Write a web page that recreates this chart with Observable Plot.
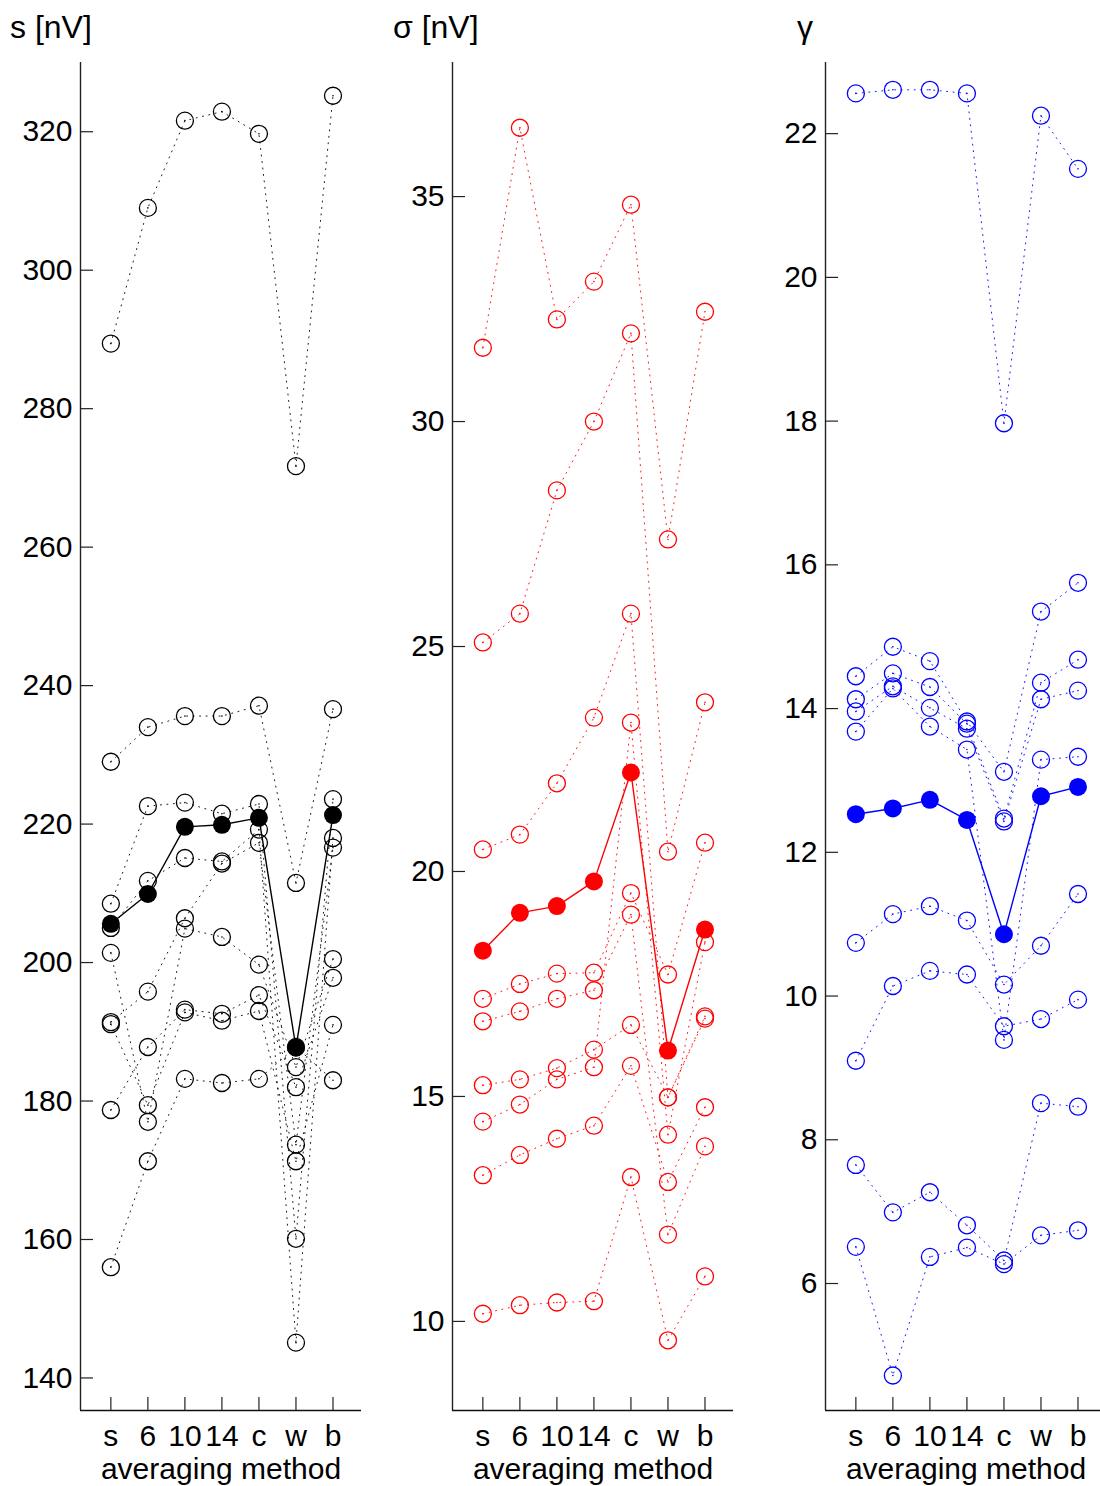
<!DOCTYPE html>
<html>
<head>
<meta charset="utf-8">
<script src="https://cdn.jsdelivr.net/npm/d3@7"></script>
<script src="https://cdn.jsdelivr.net/npm/@observablehq/plot@0.6"></script>
<style>
  html, body { margin: 0; padding: 0; background: #fff; }
  #wrap { position: relative; width: 1100px; height: 1486px; overflow: hidden; background: #fff;
          font-family: "Liberation Sans", Arial, Helvetica, sans-serif; }
  .panel { position: absolute; top: 0; }
  .title { position: absolute; font-size: 32px; line-height: 32px; color: #000; white-space: nowrap; }
</style>
</head>
<body>
<div id="wrap"></div>
<script>
// ---------- data ----------
const methods = ["s", "6", "10", "14", "c", "w", "b"];

// panel 1: s [nV]
const sSeries = [
  [289.4, 309.0, 321.6, 322.9, 319.7, 271.7, 325.2],
  [229.0, 234.0, 235.6, 235.6, 237.1, 211.5, 236.6],
  [208.5, 222.6, 223.1, 221.5, 222.9, 160.1, 223.6],
  [205.0, 211.8, 215.1, 214.6, 219.2, 145.1, 218.0],
  [191.4, 195.8, 206.4, 214.3, 217.3, 173.7, 216.6],
  [201.4, 177.0, 204.9, 203.7, 199.7, 184.9, 200.5],
  [178.7, 187.8, 193.2, 192.6, 195.3, 182.0, 197.8],
  [191.1, 179.4, 192.8, 191.6, 193.0, 171.3, 191.0],
  [156.0, 171.3, 183.2, 182.6, 183.2, 187.8, 183.0]
];
const sMean = [205.6, 209.9, 219.6, 219.9, 220.9, 187.7, 221.3];
const sTicks = [140, 160, 180, 200, 220, 240, 260, 280, 300, 320];

// panel 2: sigma [nV]
const sigmaSeries = [
  [31.64, 36.53, 32.27, 33.11, 34.82, 27.38, 32.44],
  [25.09, 25.73, 28.47, 30.00, 31.96, 20.44, 23.76],
  [20.49, 20.82, 21.96, 23.42, 25.73, 14.98, 16.78],
  [17.17, 17.50, 17.73, 17.75, 19.52, 17.71, 20.64],
  [16.67, 16.89, 17.17, 17.36, 19.04, 11.93, 13.89],
  [15.25, 15.38, 15.63, 16.04, 16.59, 14.98, 16.73],
  [14.44, 14.82, 15.38, 15.65, 23.31, 14.15, 18.43],
  [13.25, 13.70, 14.06, 14.35, 15.68, 13.10, 14.76],
  [10.17, 10.36, 10.42, 10.45, 13.21, 9.58, 11.00]
];
const sigmaMean = [18.24, 19.08, 19.23, 19.78, 22.20, 16.02, 18.71];
const sigmaTicks = [10, 15, 20, 25, 30, 35];

// panel 3: gamma
const gammaSeries = [
  [22.56, 22.61, 22.61, 22.56, 17.97, 22.25, 21.51],
  [14.45, 14.86, 14.66, 13.82, 13.12, 15.35, 15.75],
  [14.13, 14.49, 14.30, 13.79, 12.47, 14.36, 14.68],
  [13.96, 14.31, 14.01, 13.72, 12.43, 14.13, 14.25],
  [13.68, 14.28, 13.75, 13.43, 9.39, 13.29, 13.33],
  [10.74, 11.14, 11.25, 11.05, 10.16, 10.70, 11.42],
  [9.10, 10.14, 10.35, 10.30, 9.58, 9.68, 9.95],
  [7.65, 6.99, 7.27, 6.81, 6.32, 8.51, 8.46],
  [6.51, 4.72, 6.37, 6.50, 6.27, 6.67, 6.74]
];
const gammaMean = [12.53, 12.61, 12.73, 12.45, 10.86, 12.78, 12.91];
const gammaTicks = [6, 8, 10, 12, 14, 16, 18, 20, 22];

// ---------- drawing ----------
const wrap = document.getElementById("wrap");
const FONT = '"Liberation Sans", Arial, Helvetica, sans-serif';
const xDomain = [-0.82, 6.77];
const idx = d3.range(methods.length);

function panel({series, mean, ticks, yDomain, color, left, title, titleLeft}) {
  const rows = series.flatMap((vals, k) => vals.map((v, i) => ({i, v, k})));
  const meanRows = mean.map((v, i) => ({i, v}));
  const chart = Plot.plot({
    width: 372,
    height: 1486,
    marginLeft: 80,
    marginRight: 11,
    marginTop: 62,
    marginBottom: 76,
    style: {fontFamily: FONT, fontSize: "30px", color: "#000", background: "transparent", overflow: "visible"},
    x: {domain: xDomain},
    y: {domain: yDomain},
    marks: [
      Plot.line(rows, {x: "i", y: "v", z: "k", stroke: color, strokeWidth: 1, strokeDasharray: "1,5.5", strokeOpacity: 0.9}),
      Plot.dot(rows, {x: "i", y: "v", r: 0.8, fill: color, stroke: null}),
      Plot.dot(rows, {x: "i", y: "v", r: 8.5, stroke: color, strokeWidth: 1.3, fill: "none"}),
      Plot.line(meanRows, {x: "i", y: "v", stroke: color, strokeWidth: 1.4}),
      Plot.dot(meanRows, {x: "i", y: "v", r: 9, fill: color, stroke: "none"}),
      Plot.ruleX([xDomain[0]], {stroke: "#222", strokeWidth: 1.4}),
      Plot.ruleY([yDomain[0]], {stroke: "#111", strokeWidth: 1.4}),
      Plot.axisY(ticks, {tickSize: 0, tickPadding: 8, tickFormat: (d) => String(d), label: null}),
      Plot.axisY(ticks, {tickSize: 13, dx: 13, fill: "none", stroke: "#222", strokeWidth: 1.2, label: null}),
      Plot.axisX(idx, {tickSize: 0, tickPadding: 14, tickFormat: (i) => methods[i], label: null}),
      Plot.axisX(idx, {tickSize: 13, dy: -13, fill: "none", stroke: "#222", strokeWidth: 1.2, label: null}),
      Plot.text(["averaging method"], {frameAnchor: "bottom", dy: 68, lineAnchor: "bottom", fontSize: 30, fill: "#000"})
    ]
  });
  chart.classList.add("panel");
  chart.style.left = left + "px";
  wrap.appendChild(chart);
  const t = document.createElement("div");
  t.className = "title";
  t.textContent = title;
  t.style.left = titleLeft + "px";
  t.style.top = "11px";
  wrap.appendChild(t);
}

panel({series: sSeries, mean: sMean, ticks: sTicks, yDomain: [135.3, 330.0], color: "#000000", left: 0, title: "s [nV]", titleLeft: 10});
panel({series: sigmaSeries, mean: sigmaMean, ticks: sigmaTicks, yDomain: [8.02, 37.98], color: "#ff0000", left: 372, title: "σ [nV]", titleLeft: 393});
panel({series: gammaSeries, mean: gammaMean, ticks: gammaTicks, yDomain: [4.233, 22.99], color: "#0000ff", left: 745, title: "γ", titleLeft: 797});
</script>
</body>
</html>
